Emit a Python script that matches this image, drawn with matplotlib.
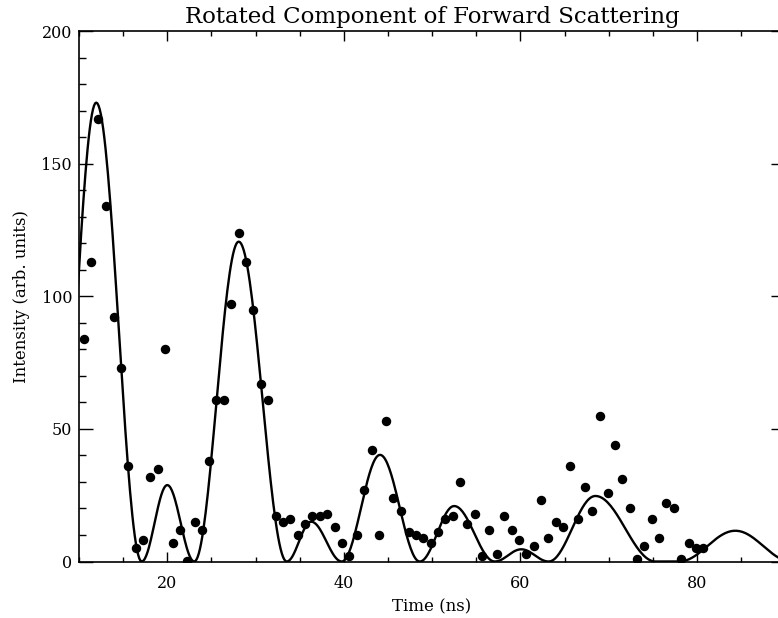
import numpy as np
import matplotlib.pyplot as plt
from matplotlib.ticker import MultipleLocator

plt.rcParams['font.family'] = ['DejaVu Serif']

# measured intensity (time in ns, counts in arb. units)
time_ns = [10.56, 11.35, 12.18, 13.08, 13.92, 14.76, 15.58, 16.41, 17.24, 18.07,
           18.95, 19.75, 20.60, 21.40, 22.27, 23.10, 23.90, 24.76, 25.55, 26.46,
           27.25, 28.09, 28.95, 29.75, 30.60, 31.45, 32.28, 33.10, 33.94, 34.80,
           35.60, 36.43, 37.30, 38.13, 39.00, 39.80, 40.63, 41.50, 42.33, 43.16,
           44.00, 44.78, 45.60, 46.50, 47.35, 48.15, 48.98, 49.85, 50.68, 51.50,
           52.35, 53.17, 54.00, 54.84, 55.67, 56.50, 57.33, 58.20, 59.03, 59.86,
           60.69, 61.52, 62.32, 63.18, 64.00, 64.85, 65.67, 66.50, 67.34, 68.17,
           69.04, 69.87, 70.67, 71.53, 72.37, 73.20, 74.03, 74.86, 75.70, 76.52,
           77.39, 78.18, 79.05, 79.88, 80.70]
intensity = [84, 113, 167, 134, 92, 73, 36, 5, 8, 32,
             35, 80, 7, 12, 0.3, 15, 12, 38, 61, 61,
             97, 124, 113, 95, 67, 61, 17, 15, 16, 10,
             14, 17, 17, 18, 13, 7, 2, 10, 27, 42,
             10, 53, 24, 19, 11, 10, 9, 7, 11, 16,
             17, 30, 14, 18, 2, 12, 3, 17, 12, 8,
             3, 6, 23, 9, 15, 13, 36, 16, 28, 19,
             55, 26, 44, 31, 20, 1, 6, 16, 9, 22,
             20, 1, 7, 5, 5]

# fitted beat pattern: each lobe runs zero -> peak -> zero
lobe_start = [7.2, 17.1, 23.06, 33.53, 39.77, 48.6, 57.1, 63.2, 78.0]
lobe_peak_t = [11.95, 20.0, 28.09, 36.3, 44.1, 52.5, 60.1, 68.5, 84.35]
lobe_end = [17.1, 23.06, 33.53, 39.77, 48.6, 57.1, 63.2, 75.3, 90.7]
lobe_height = [173, 28.8, 120.6, 15.0, 40.2, 20.9, 4.6, 24.7, 11.6]

fig = plt.figure(figsize=(7.78, 6.18), dpi=100)
ax = fig.add_axes([79 / 778, 56.5 / 618, 706.2 / 778, 530.5 / 618])

fit_t, fit_y = [], []
for t0, tp, t1, h in zip(lobe_start, lobe_peak_t, lobe_end, lobe_height):
    rise = np.linspace(t0, tp, 40)
    fall = np.linspace(tp, t1, 40)
    fit_t += list(rise) + list(fall)
    fit_y += list(h * np.sin(0.5 * np.pi * (rise - t0) / (tp - t0)) ** 2)
    fit_y += list(h * np.cos(0.5 * np.pi * (fall - tp) / (t1 - tp)) ** 2)

ax.plot(fit_t, fit_y, color='black', lw=1.7, zorder=2)
ax.plot(time_ns, intensity, 'o', color='black', ms=5.8, zorder=3)

ax.set_xlim(10, 90)
ax.set_ylim(0, 200)
ax.xaxis.set_major_locator(MultipleLocator(20))
ax.xaxis.set_minor_locator(MultipleLocator(5))
ax.yaxis.set_major_locator(MultipleLocator(50))
ax.yaxis.set_minor_locator(MultipleLocator(10))
ax.tick_params(axis='both', which='both', direction='in', top=True, right=True,
               width=1.0, labelsize=11.5)
ax.tick_params(axis='x', which='major', length=7.5, pad=10)
ax.tick_params(axis='x', which='minor', length=3.6)
ax.tick_params(axis='y', which='major', length=10, pad=5)
ax.tick_params(axis='y', which='minor', length=5.0)
for sp in ax.spines.values():
    sp.set_linewidth(1.2)

ax.set_title('Rotated Component of Forward Scattering', fontsize=16.5, pad=6)
ax.set_xlabel('Time (ns)', fontsize=12, labelpad=4)
ax.set_ylabel('Intensity (arb. units)', fontsize=12, labelpad=8)

fig.savefig('out.png', dpi=100)
